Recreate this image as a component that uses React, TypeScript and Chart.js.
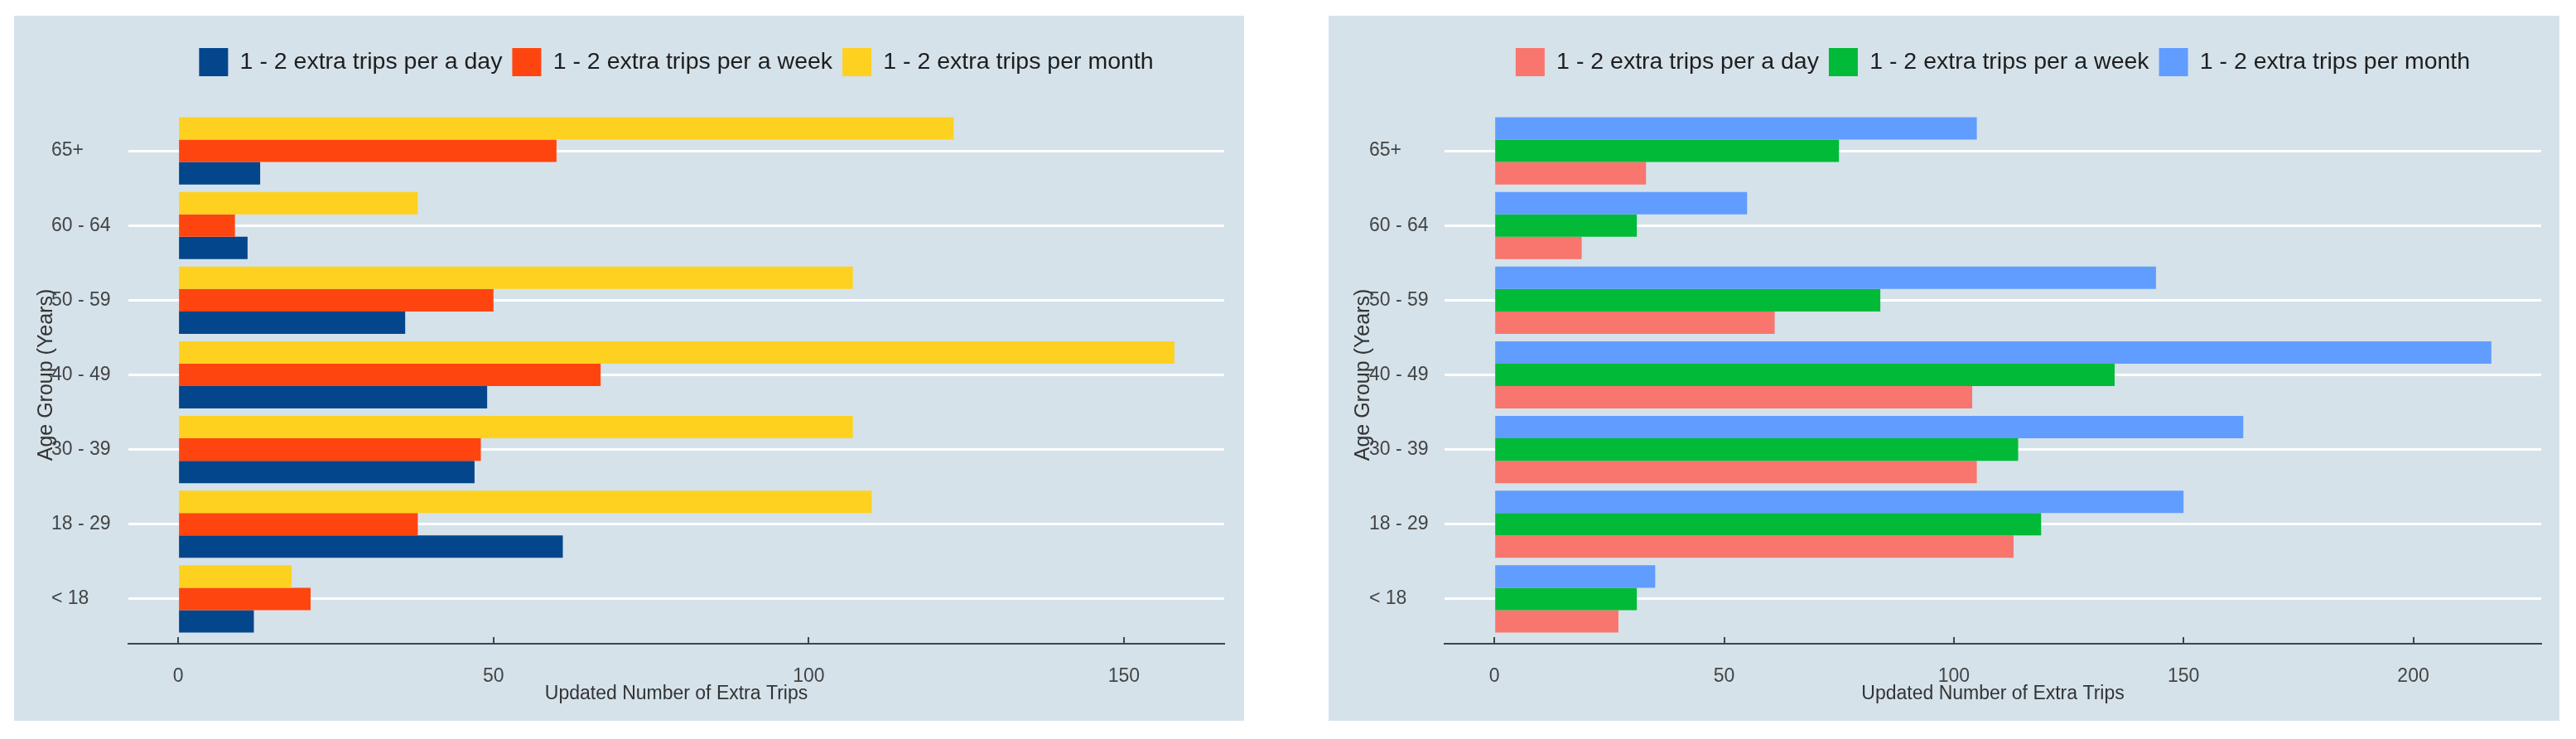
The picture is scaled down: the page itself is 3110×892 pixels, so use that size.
import React, { useEffect, useRef } from 'react';
import { Chart, registerables } from 'chart.js';

Chart.register(...registerables);

// Categories listed bottom -> top
const CATEGORIES = ['< 18', '18 - 29', '30 - 39', '40 - 49', '50 - 59', '60 - 64', '65+'];
const SERIES_NAMES = [
  '1 - 2 extra trips per a day',
  '1 - 2 extra trips per a week',
  '1 - 2 extra trips per month',
];

const LEFT_DAY = [12, 61, 47, 49, 36, 11, 13];
const LEFT_WEEK = [21, 38, 48, 67, 50, 9, 60];
const LEFT_MONTH = [18, 110, 107, 158, 107, 38, 123];

const RIGHT_DAY = [27, 113, 105, 104, 61, 19, 33];
const RIGHT_WEEK = [31, 119, 114, 135, 84, 31, 75];
const RIGHT_MONTH = [35, 150, 163, 217, 144, 55, 105];

const LEFT_TICKS = [0, 50, 100, 150];
const RIGHT_TICKS = [0, 50, 100, 150, 200];

const LEFT_COLORS = ['#03468c', '#ff450f', '#fed120'];
const RIGHT_COLORS = ['#f8766d', '#00ba38', '#619cff'];

const X_TITLE = 'Updated Number of Extra Trips';
const Y_TITLE = 'Age Group (Years)';

const FONT = "'Liberation Sans', Arial, sans-serif";
const PANEL_BG = '#d5e2ea';
const AXIS_COLOR = '#3b4650';
const TICK_COLOR = '#444444';
const TITLE_COLOR = '#333333';
const LEGEND_COLOR = '#1e1e1e';

type PanelProps = {
  series: number[][];
  colors: string[];
  ticks: number[];
  width: number;
  height: number;
  padLeft: number;
  padRight: number;
  yWidth: number;
  yTitlePad: number;
};

function Panel({ series, colors, ticks, width, height, padLeft, padRight, yWidth, yTitlePad }: PanelProps) {
  const ref = useRef<HTMLCanvasElement | null>(null);

  useEffect(() => {
    if (!ref.current) return;
    const maxVal = Math.max(...series.flat());
    const order = [2, 1, 0];
    const datasets = order.map((i) => ({
      label: SERIES_NAMES[i],
      data: CATEGORIES.map((_, k) => ({ x: series[i][k], y: k + 1 })),
      backgroundColor: colors[i],
      borderWidth: 0,
      categoryPercentage: 0.9,
      barPercentage: 1.0,
    }));

    const chart = new Chart(ref.current, {
      type: 'bar',
      data: { datasets },
      options: {
        indexAxis: 'y',
        animation: false,
        responsive: false,
        layout: { padding: { top: 27, left: padLeft, right: padRight, bottom: 0 } },
        plugins: {
          tooltip: { enabled: false },
          title: {
            display: true,
            text: ' ',
            weight: 500,
            font: { size: 10, family: FONT },
            padding: { top: 14, bottom: 0 },
          },
          legend: {
            display: true,
            position: 'top',
            fullSize: false,
            labels: {
              boxWidth: 35,
              boxHeight: 34,
              padding: 12,
              color: LEGEND_COLOR,
              font: { family: FONT, size: 28.5 },
              sort: (a: any, b: any) => b.datasetIndex - a.datasetIndex,
            },
          },
        },
        scales: {
          x: {
            type: 'linear',
            min: -0.05 * maxVal,
            max: 1.05 * maxVal,
            offset: false,
            afterBuildTicks: (s: any) => {
              s.ticks = ticks.map((v) => ({ value: v }));
            },
            grid: {
              display: true,
              offset: false,
              drawOnChartArea: false,
              drawTicks: true,
              tickLength: -8,
              color: AXIS_COLOR,
              lineWidth: 2,
            },
            border: { display: true, color: AXIS_COLOR, width: 2 },
            ticks: {
              padding: 34,
              color: TICK_COLOR,
              font: { family: FONT, size: 23 },
              maxRotation: 0,
              autoSkip: false,
            },
            title: {
              display: true,
              text: X_TITLE,
              color: TITLE_COLOR,
              font: { family: FONT, size: 23 },
              padding: { top: 0, bottom: 19 },
            },
            afterFit: (s: any) => {
              s.height = 93;
            },
          },
          y: {
            type: 'linear',
            min: 0.4,
            max: 7.6,
            offset: false,
            afterBuildTicks: (s: any) => {
              s.ticks = CATEGORIES.map((_, k) => ({ value: k + 1 }));
            },
            ticks: {
              callback: (v: any) => CATEGORIES[Math.round(Number(v)) - 1] ?? '',
              crossAlign: 'far',
              padding: 0,
              color: TICK_COLOR,
              font: { family: FONT, size: 23 },
              autoSkip: false,
            },
            grid: { color: '#ffffff', lineWidth: 3, drawTicks: false, offset: false },
            border: { display: false },
            title: {
              display: true,
              text: Y_TITLE,
              color: TITLE_COLOR,
              font: { family: FONT, size: 25 },
              padding: { top: yTitlePad, bottom: 0 },
            },
            afterFit: (s: any) => {
              s.width = yWidth;
            },
          },
        },
      } as any,
    });
    return () => chart.destroy();
  }, []);

  return (
    <canvas
      ref={ref}
      width={width}
      height={height}
      style={{ display: 'block', width: width + 'px', height: height + 'px' }}
    />
  );
}

export default function App() {
  return (
    <div style={{ position: 'absolute', left: 0, top: 0, width: 3110, height: 892, background: '#ffffff' }}>
      <div style={{ position: 'absolute', left: 17, top: 19, width: 1485, height: 851, background: PANEL_BG }}>
        <Panel
          series={[LEFT_DAY, LEFT_WEEK, LEFT_MONTH]}
          colors={LEFT_COLORS}
          ticks={LEFT_TICKS}
          width={1485}
          height={851}
          padLeft={45}
          padRight={24}
          yWidth={93}
          yTitlePad={-21}
        />
      </div>
      <div style={{ position: 'absolute', left: 1604, top: 19, width: 1486, height: 851, background: PANEL_BG }}>
        <Panel
          series={[RIGHT_DAY, RIGHT_WEEK, RIGHT_MONTH]}
          colors={RIGHT_COLORS}
          ticks={RIGHT_TICKS}
          width={1486}
          height={851}
          padLeft={49}
          padRight={22}
          yWidth={91}
          yTitlePad={-22}
        />
      </div>
    </div>
  );
}
